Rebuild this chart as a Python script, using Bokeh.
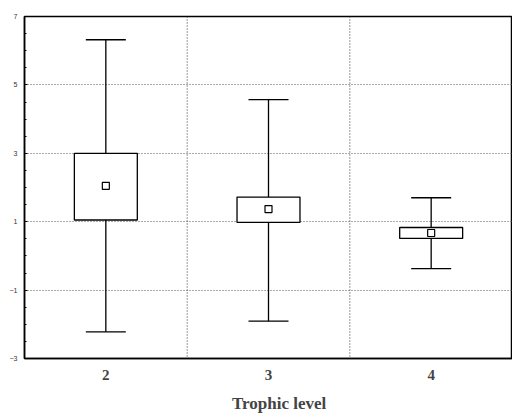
from bokeh.plotting import figure
from bokeh.models import FixedTicker, Span, FactorRange, Range1d
from bokeh.embed import file_html
from bokeh.resources import INLINE

categories = ["2", "3", "4"]
q1 = [1.05, 0.98, 0.51]
q3 = [3.0, 1.72, 0.83]
means = [2.05, 1.37, 0.67]
w_low = [-2.22, -1.91, -0.37]
w_high = [6.32, 4.57, 1.70]
y_ticks = [-3, -1, 1, 3, 5, 7]

p = figure(width=512, height=415, output_backend="svg", toolbar_location=None,
           x_range=FactorRange(*categories, range_padding=0),
           y_range=Range1d(-3, 7),
           min_border_left=24, min_border_right=0, min_border_top=16, min_border_bottom=50)

p.outline_line_color = "black"
p.outline_line_width = 1.5

# grids
p.xgrid.grid_line_color = None
p.ygrid.ticker = FixedTicker(ticks=y_ticks)
p.ygrid.grid_line_color = "#555555"
p.ygrid.grid_line_dash = "1 2"
p.ygrid.grid_line_width = 1
for i in range(1, len(categories)):
    p.add_layout(Span(location=i, dimension="height", line_color="#333333",
                      line_dash="1 2", line_width=1))

# whiskers
p.segment(x0=categories, y0=q3, x1=categories, y1=w_high, line_color="black", line_width=1.3)
p.segment(x0=categories, y0=w_low, x1=categories, y1=q1, line_color="black", line_width=1.3)
p.scatter(x=categories, y=w_high, marker="dash", size=40, line_color="black", line_width=1.3)
p.scatter(x=categories, y=w_low, marker="dash", size=40, line_color="black", line_width=1.3)

# boxes
p.vbar(x=categories, top=q3, bottom=q1, width=0.387, fill_color="white",
       line_color="black", line_width=1.3)
# means
p.scatter(x=categories, y=means, marker="square", size=7, fill_color="white",
          line_color="black", line_width=1.2)

# y axis
p.yaxis.ticker = FixedTicker(ticks=y_ticks, minor_ticks=[v / 2 for v in range(-6, 15)])
p.yaxis.major_label_text_font = "Liberation Sans"
p.yaxis.major_label_text_font_size = "7px"
p.yaxis.major_label_text_color = "#333333"
p.yaxis.major_tick_in = 3
p.yaxis.major_tick_out = 0
p.yaxis.minor_tick_in = 2
p.yaxis.minor_tick_out = 0
p.yaxis.axis_line_width = 1.5
p.yaxis.major_label_standoff = 7

# x axis
p.xaxis.axis_label = "\u00a0\u00a0\u00a0\u00a0\u00a0Trophic level"
p.xaxis.axis_label_text_font = "Liberation Serif"
p.xaxis.axis_label_text_font_style = "bold"
p.xaxis.axis_label_text_font_size = "17px"
p.xaxis.axis_label_standoff = 11
p.xaxis.major_label_text_font = "Liberation Serif"
p.xaxis.major_label_text_font_style = "bold"
p.xaxis.major_label_text_font_size = "15px"
p.xaxis.major_label_standoff = 5
p.xaxis.major_tick_line_color = None
p.xaxis.axis_line_width = 1.5

open("out.html", "w").write(file_html(p, INLINE))
